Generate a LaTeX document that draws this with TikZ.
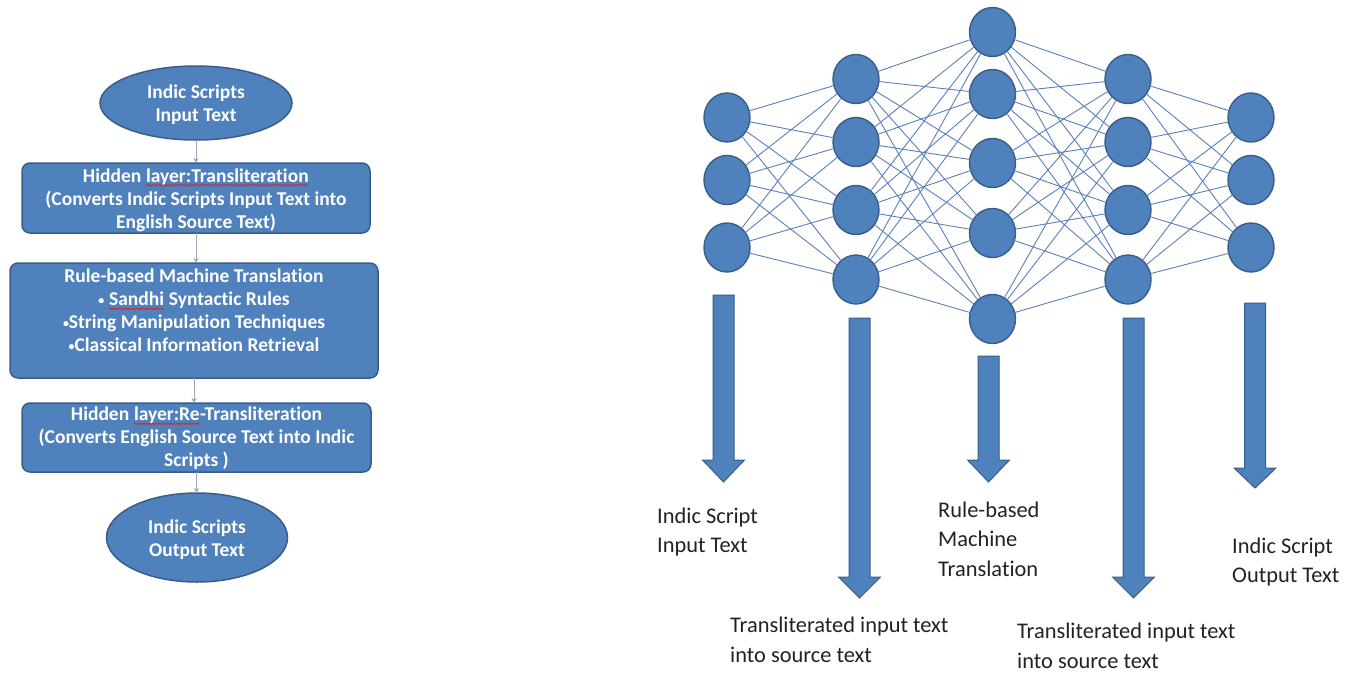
\documentclass[tikz,border=0pt]{standalone}
\usepackage{fontspec}
\setmainfont{Carlito}[Ligatures=NoCommon]
\usetikzlibrary{shapes.geometric,decorations.pathmorphing,arrows.meta}

\definecolor{nnfill}{HTML}{4F81BD}
\definecolor{nnline}{HTML}{385D8A}
\definecolor{edgeblue}{HTML}{5A80BE}
\definecolor{flowgray}{HTML}{9EA8B6}
\definecolor{spellred}{HTML}{E0201B}
\definecolor{labelgray}{HTML}{222222}

\newcommand\spellwave[1]{\tikz[baseline=(sw.base)]{\node[inner sep=0pt,outer sep=0pt,anchor=base](sw){#1};\draw[spellred,line width=0.7pt,decorate,decoration={snake,amplitude=0.8pt,segment length=3pt}]([yshift=-3pt]sw.base west)--([yshift=-3pt]sw.base east);}}
\newcommand\smallbullet{{\fontsize{12}{12}\selectfont\raisebox{1.5pt}{•}}}

\newcommand\bigarrow[4]{%
  \draw[bigarrowstyle] ({#1-10.5},#2) -- ({#1+10.5},#2) -- ({#1+10.5},#3) -- ({#1+21},#3) -- (#1,#4) -- ({#1-21},#3) -- ({#1-10.5},#3) -- cycle;}

\tikzset{
  neuron/.style={ellipse, minimum width=46pt, minimum height=49pt, inner sep=0pt, outer sep=0pt, fill=nnfill, draw=nnline, line width=1.4pt},
  edge/.style={draw=edgeblue, line width=0.9pt},
  bigarrowstyle/.style={fill=nnfill, draw=nnline, line width=1pt},
  flowshape/.style={fill=nnfill, draw=nnline, line width=1.5pt, inner sep=0pt, outer sep=0pt},
  flowbox/.style={flowshape, rectangle, rounded corners=8pt},
  flowell/.style={flowshape, ellipse},
  flowtext/.style={text=white, align=center, inner sep=0pt, font=\fontsize{19.5}{23}\selectfont\bfseries},
  flowarrow/.style={draw=flowgray, line width=1pt, -{Stealth[length=5pt,width=5pt]}},
  nnlabel/.style={text=labelgray, align=left, anchor=west, inner sep=0pt, font=\fontsize{22.4}{29.5}\selectfont},
}

\begin{document}
\begin{tikzpicture}[x=1pt,y=-1pt]
\useasboundingbox[fill=white] (0,0) rectangle (1355,673);

% ---------- flowchart ----------
\node[flowell, minimum width=192pt, minimum height=74pt] (e1) at (196,103) {};
\node[flowbox, minimum width=348pt, minimum height=70pt] (b1) at (196,198) {};
\node[flowbox, minimum width=368pt, minimum height=115pt] (b2) at (194,320.5) {};
\node[flowbox, minimum width=349pt, minimum height=69pt] (b3) at (196.5,437.5) {};
\node[flowell, minimum width=181pt, minimum height=89pt] (e2) at (197,537.5) {};

\node[flowtext] (e1t) at (196,105) {Indic Scripts\\Input Text};
\node[flowtext] (b1t) at (196,200) {Hidden \spellwave{layer:Transliteration}\\(Converts Indic Scripts Input Text into\\English Source Text)};
\node[flowtext] (b2t) at (194,310.5) {Rule-based Machine Translation\\\smallbullet{} \spellwave{Sandhi} Syntactic Rules\\\smallbullet String Manipulation Techniques\\\smallbullet Classical Information Retrieval};
\node[flowtext] (b3t) at (196.5,438.5) {Hidden \spellwave{layer:Re}-Transliteration\\(Converts English Source Text into Indic\\Scripts )};
\node[flowtext] (e2t) at (197,539.5) {Indic Scripts\\Output Text};

\draw[flowarrow] (e1.south) -- (e1.south |- b1.north);
\draw[flowarrow] (b1.south) -- (b1.south |- b2.north);
\draw[flowarrow] (b2.south) -- (b2.south |- b3.north);
\draw[flowarrow] (b3.south) -- (b3.south |- e2.north);

% ---------- network ----------
\foreach \y [count=\i] in {117.5,180,247.5} \node[neuron] (n1-\i) at (727,\y) {};
\foreach \y [count=\i] in {79,142,210,279.5} \node[neuron] (n2-\i) at (856,\y) {};
\foreach \y [count=\i] in {32,94,163,233,319} \node[neuron] (n3-\i) at (992.5,\y) {};
\foreach \y [count=\i] in {79,142,210,279.5} \node[neuron] (n4-\i) at (1128,\y) {};
\foreach \y [count=\i] in {117.5,180,247.5} \node[neuron] (n5-\i) at (1251,\y) {};

\foreach \i in {1,2,3} \foreach \j in {1,2,3,4} \draw[edge] (n1-\i) -- (n2-\j);
\foreach \i in {1,2,3,4} \foreach \j in {1,2,3,4,5} \draw[edge] (n2-\i) -- (n3-\j);
\foreach \i in {1,2,3,4,5} \foreach \j in {1,2,3,4} \draw[edge] (n3-\i) -- (n4-\j);
\foreach \i in {1,2,3,4} \foreach \j in {1,2,3} \draw[edge] (n4-\i) -- (n5-\j);

\bigarrow{723.5}{295}{460}{482}
\bigarrow{859.5}{318}{577}{598}
\bigarrow{988.5}{356}{460}{482}
\bigarrow{1133.5}{318}{577}{598}
\bigarrow{1255}{303}{468}{488}

\node[nnlabel] (l1) at (657,532) {Indic Script\\Input Text};
\node[nnlabel] (l2) at (730,640) {Transliterated input text\\into source text};
\node[nnlabel] (l3) at (938,539) {Rule-based\\Machine\\Translation};
\node[nnlabel] (l4) at (1017,646) {Transliterated input text\\into source text};
\node[nnlabel] (l5) at (1232,562) {Indic Script\\Output Text};
\end{tikzpicture}
\end{document}
